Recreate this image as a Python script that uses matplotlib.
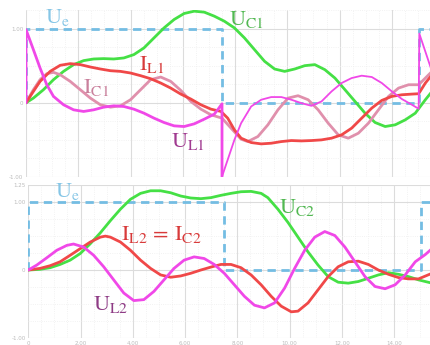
import matplotlib
matplotlib.use("Agg")
import matplotlib.pyplot as plt
from matplotlib.ticker import MultipleLocator, FuncFormatter

plt.rcParams["mathtext.fontset"] = "stix"

# square-wave source, same in both circuits
ue_t = [0, 0, 7.5, 7.5, 15.03, 15.03, 15.6]
ue_v = [0, 1, 1, 0, 0, 1, 1]

# circuit 1
ul1_t = [0, 0, 0.282, 0.538, 0.795, 1.051, 1.436, 1.821, 2.205, 2.590, 2.974,
         3.359, 3.744, 4.128, 4.513, 4.897, 5.282, 5.667, 6.051, 6.436, 6.821,
         7.205, 7.333, 7.5, 7.5]
ul1_v = [0, 0.986, 0.716, 0.468, 0.243, 0.086, -0.027, -0.095, -0.117, -0.095,
         -0.059, -0.041, -0.050, -0.086, -0.140, -0.207, -0.266, -0.311, -0.320,
         -0.284, -0.221, -0.153, -0.095, -0.014, -0.995]
ul1b_t = [7.5, 7.974, 8.231, 8.615, 9.0, 9.385, 9.769, 10.154, 10.538, 10.923,
          11.308, 11.692, 12.077, 12.462, 12.846, 13.231, 13.615, 14.0, 14.385,
          14.769, 15.026, 15.051, 15.538]
ul1b_v = [-0.995, -0.5, -0.275, -0.050, 0.041, 0.077, 0.077, 0.041, -0.005,
          -0.041, 0.018, 0.153, 0.266, 0.333, 0.365, 0.347, 0.266, 0.153, 0.050,
          -0.027, -0.081, 0.932, 0.42]

il1_t = [0, 0.282, 0.538, 0.923, 1.308, 1.692, 2.077, 2.462, 2.846, 3.231,
         3.615, 4.0, 4.385, 4.769, 5.154, 5.538, 5.923, 6.308, 6.692, 7.077,
         7.462, 7.718, 7.974, 8.231, 8.615, 9.0, 9.385, 9.769, 10.154, 10.538,
         10.923, 11.308, 11.692, 12.077, 12.462, 12.846, 13.231, 13.615, 14.0,
         14.385, 14.769, 15.026, 15.282, 15.538]
il1_v = [0, 0.153, 0.288, 0.423, 0.505, 0.527, 0.514, 0.482, 0.455, 0.432,
         0.423, 0.401, 0.365, 0.324, 0.266, 0.198, 0.117, 0.050, -0.027, -0.086,
         -0.117, -0.207, -0.365, -0.477, -0.536, -0.554, -0.545, -0.523, -0.509,
         -0.514, -0.509, -0.5, -0.477, -0.432, -0.342, -0.207, -0.072, 0.032,
         0.086, 0.108, 0.117, 0.122, 0.266, 0.378]

ic1_t = [0, 0.282, 0.538, 0.795, 1.051, 1.308, 1.692, 2.077, 2.462, 2.846,
         3.231, 3.615, 4.0, 4.385, 4.769, 5.154, 5.538, 5.923, 6.308, 6.692,
         7.077, 7.5, 7.846, 8.231, 8.487, 8.872, 9.256, 9.641, 10.026, 10.410,
         10.795, 11.179, 11.564, 11.949, 12.333, 12.718, 13.103, 13.487, 13.872,
         14.256, 14.641, 15.026, 15.282, 15.538]
ic1_v = [0, 0.176, 0.311, 0.392, 0.410, 0.378, 0.288, 0.176, 0.063, -0.027,
         -0.059, -0.041, 0.041, 0.176, 0.311, 0.347, 0.288, 0.167, 0.018, -0.086,
         -0.162, -0.207, -0.342, -0.491, -0.523, -0.455, -0.297, -0.095, 0.063,
         0.095, 0.041, -0.095, -0.275, -0.432, -0.477, -0.410, -0.275, -0.095,
         0.086, 0.198, 0.243, 0.243, 0.333, 0.423]

uc1_t = [0, 0.282, 0.667, 1.051, 1.436, 1.821, 2.205, 2.590, 2.974, 3.359,
         3.744, 4.128, 4.513, 4.897, 5.282, 5.667, 6.051, 6.436, 6.821, 7.205,
         7.590, 7.974, 8.359, 8.744, 9.128, 9.513, 9.897, 10.282, 10.667, 11.051,
         11.436, 11.821, 12.205, 12.590, 12.974, 13.359, 13.744, 14.128, 14.513,
         14.897, 15.282, 15.538]
uc1_v = [0, 0.063, 0.176, 0.311, 0.423, 0.514, 0.568, 0.590, 0.595, 0.590,
         0.604, 0.649, 0.739, 0.874, 1.009, 1.122, 1.203, 1.234, 1.221, 1.167,
         1.099, 1.009, 0.874, 0.716, 0.559, 0.455, 0.423, 0.455, 0.5, 0.514,
         0.446, 0.333, 0.176, 0.018, -0.140, -0.266, -0.320, -0.297, -0.230,
         -0.140, 0.041, 0.153]

# circuit 2
uc2_t = [0, 0.449, 0.833, 1.218, 1.603, 1.987, 2.372, 2.756, 3.141, 3.526,
         3.910, 4.295, 4.679, 5.064, 5.449, 5.833, 6.218, 6.603, 6.987, 7.372,
         7.756, 8.141, 8.526, 8.910, 9.167, 9.551, 9.936, 10.321, 10.705, 11.090,
         11.474, 11.859, 12.244, 12.628, 13.013, 13.397, 13.782, 14.167, 14.551,
         14.936, 15.449]
uc2_v = [0, 0.010, 0.034, 0.082, 0.145, 0.242, 0.386, 0.546, 0.725, 0.894,
         1.039, 1.126, 1.164, 1.164, 1.135, 1.087, 1.058, 1.048, 1.063, 1.097,
         1.126, 1.150, 1.155, 1.126, 1.063, 0.894, 0.700, 0.483, 0.266, 0.072,
         -0.097, -0.179, -0.193, -0.169, -0.121, -0.072, -0.039, -0.063, -0.097,
         -0.145, -0.193]

il2_t = [0, 0.449, 0.833, 1.218, 1.603, 1.987, 2.372, 2.756, 2.949, 3.141,
         3.526, 3.910, 4.295, 4.679, 5.064, 5.449, 5.833, 6.218, 6.603, 6.987,
         7.372, 7.756, 8.141, 8.526, 8.910, 9.295, 9.679, 10.064, 10.321, 10.705,
         11.090, 11.474, 11.859, 12.244, 12.628, 13.013, 13.397, 13.782, 14.167,
         14.551, 14.936, 15.449]
il2_v = [0, 0.024, 0.063, 0.121, 0.217, 0.314, 0.411, 0.483, 0.498, 0.483,
         0.411, 0.290, 0.145, 0.024, -0.072, -0.106, -0.087, -0.048, 0, 0.043,
         0.082, 0.082, 0.034, -0.072, -0.217, -0.386, -0.531, -0.614, -0.604,
         -0.483, -0.290, -0.097, 0.048, 0.121, 0.130, 0.082, 0, -0.063, -0.111,
         -0.130, -0.130, -0.048]

ul2_t = [0, 0.321, 0.705, 1.090, 1.474, 1.731, 2.115, 2.5, 2.885, 3.269,
         3.654, 4.038, 4.423, 4.808, 5.192, 5.577, 5.962, 6.346, 6.731, 7.115,
         7.5, 7.885, 8.269, 8.654, 9.038, 9.423, 9.808, 10.192, 10.577, 10.962,
         11.346, 11.731, 12.115, 12.5, 12.885, 13.269, 13.654, 14.038, 14.423,
         14.808, 15.192, 15.449]
ul2_v = [0, 0.072, 0.179, 0.290, 0.362, 0.382, 0.338, 0.217, 0.048, -0.145,
         -0.338, -0.449, -0.435, -0.314, -0.145, 0.024, 0.145, 0.193, 0.169,
         0.082, -0.048, -0.217, -0.386, -0.517, -0.556, -0.483, -0.266, 0.024,
         0.290, 0.483, 0.565, 0.507, 0.338, 0.121, -0.097, -0.242, -0.275,
         -0.217, -0.072, 0.121, 0.227, 0.314]

c_ue = "#74bde3"
c_u = "#45e045"
c_i = "#f04848"
c_ic = "#e090ac"
c_ul = "#f048e8"


def tick_fmt(v, pos):
    if abs(v) < 1e-9:
        return "0"
    return "%.2f" % v


def style_axes(ax, yticks):
    ax.set_xlim(0, 15.55)
    ax.set_ylim(-1, 1.25)
    ax.xaxis.set_major_locator(MultipleLocator(2))
    ax.xaxis.set_minor_locator(MultipleLocator(0.5))
    ax.set_yticks(yticks)
    ax.yaxis.set_minor_locator(MultipleLocator(0.25))
    ax.xaxis.set_major_formatter(FuncFormatter(tick_fmt))
    ax.yaxis.set_major_formatter(FuncFormatter(tick_fmt))
    ax.grid(True, which="major", color="#dcdcdc", lw=0.8)
    ax.grid(True, which="minor", color="#eeeeee", lw=0.6, ls=":")
    ax.set_axisbelow(True)
    for s in ax.spines.values():
        s.set_visible(False)
    ax.tick_params(which="both", length=0, labelsize=4, labelcolor="#bbbbbb", pad=2)


def curve(ax, t, v, color, lw=2):
    ax.plot(t, v, color=color, lw=lw, solid_joinstyle="round", solid_capstyle="round")


fig = plt.figure(figsize=(4.3, 3.45), dpi=100)
ax1 = fig.add_axes([0.0605, 0.487, 0.945, 0.484])
ax2 = fig.add_axes([0.0658, 0.020, 0.945, 0.444])

# top circuit
style_axes(ax1, [-1, 0, 1])
ax1.tick_params(labelbottom=False)
ax1.plot(ue_t, ue_v, color=c_ue, lw=2, ls=(0, (3, 2)))
curve(ax1, uc1_t, uc1_v, c_u)
curve(ax1, ic1_t, ic1_v, c_ic)
curve(ax1, il1_t, il1_v, c_i)
curve(ax1, ul1_t, ul1_v, c_ul)
curve(ax1, ul1b_t, ul1b_v, c_ul, lw=1.3)

fs = 16
ax1.text(0.73, 1.08, r"$\mathrm{U_e}$", color="#86c6e6", fontsize=fs)
ax1.text(7.77, 1.054, r"$\mathrm{U_{C1}}$", color="#52b852", fontsize=fs)
ax1.text(4.31, 0.446, r"$\mathrm{I_{L1}}$", color="#d83a3a", fontsize=fs)
ax1.text(2.19, 0.135, r"$\mathrm{I_{C1}}$", color="#c9809c", fontsize=fs)
ax1.text(5.54, -0.595, r"$\mathrm{U_{L1}}$", color="#a03a90", fontsize=fs)

# bottom circuit
style_axes(ax2, [-1, 0, 1, 1.25])
ax2.plot(ue_t, ue_v, color=c_ue, lw=2, ls=(0, (3, 2)))
curve(ax2, uc2_t, uc2_v, c_u)
curve(ax2, il2_t, il2_v, c_i)
curve(ax2, ul2_t, ul2_v, c_ul)

ax2.text(1.03, 1.074, r"$\mathrm{U_e}$", color="#86c6e6", fontsize=fs)
ax2.text(3.53, 0.441, r"$\mathrm{I_{L2}\,=\,I_{C2}}$", color="#d83a3a", fontsize=fs)
ax2.text(2.46, -0.588, r"$\mathrm{U_{L2}}$", color="#8e3b85", fontsize=fs)
ax2.text(9.6, 0.838, r"$\mathrm{U_{C2}}$", color="#52b852", fontsize=fs)

fig.savefig("out.png", dpi=100)
